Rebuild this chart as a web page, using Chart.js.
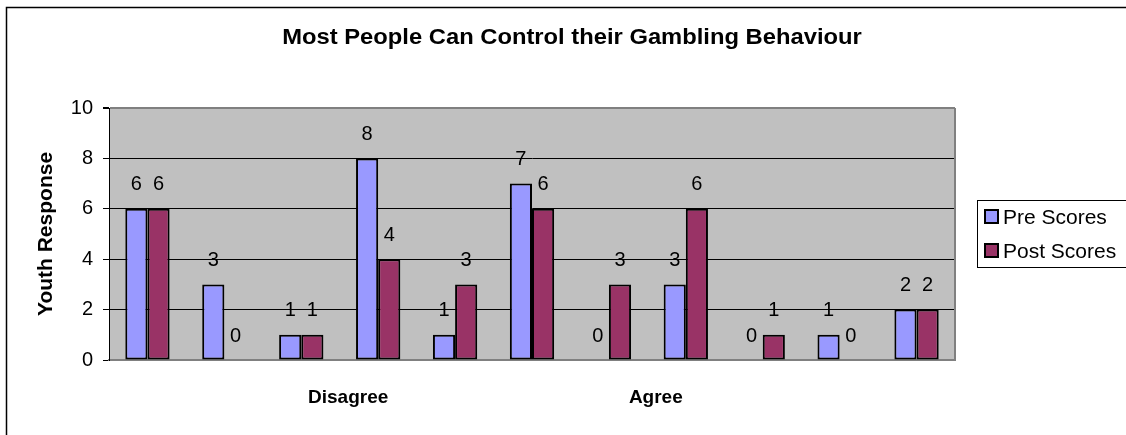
<!DOCTYPE html>
<html>
<head>
<meta charset="utf-8">
<script src="https://cdn.jsdelivr.net/npm/chart.js@4/dist/chart.umd.min.js"></script>
<style>
  html, body { margin: 0; padding: 0; background: #fff; }
  #wrap { position: relative; width: 1126px; height: 435px; }
  canvas { display: block; }
</style>
</head>
<body>
<div id="wrap"><canvas id="c" width="1126" height="435"></canvas></div>
<script>
// Response categories along the x axis (only two are labelled)
const categories = ['', '', '', 'Disagree', '', '', '', 'Agree', '', '', ''];
// Counts of youth responses per category
const preScores  = [6, 3, 1, 8, 1, 7, 0, 3, 0, 1, 2];
const postScores = [6, 0, 1, 4, 3, 6, 3, 6, 1, 0, 2];
const seriesNames = ['Pre Scores', 'Post Scores'];
const yTicks = [0, 2, 4, 6, 8, 10];

const chartTitle = 'Most People Can Control their Gambling Behaviour';
const yTitle = 'Youth Response';

const PRE_COLOR = '#9999FF';
const POST_COLOR = '#993366';
const FONT = 'Arial, "Liberation Sans", sans-serif';

// Plot background, frame, titles, value labels and legend
const decorations = {
  id: 'decorations',
  beforeDraw(chart) {
    const { ctx, chartArea: a } = chart;
    ctx.save();
    ctx.fillStyle = '#C0C0C0';
    ctx.fillRect(a.left, a.top, a.right - a.left, a.bottom - a.top);
    ctx.restore();
  },
  afterDraw(chart) {
    const { ctx, chartArea: a } = chart;
    ctx.save();
    // right edge of plot
    ctx.strokeStyle = '#808080';
    ctx.lineWidth = 2;
    ctx.beginPath();
    ctx.moveTo(a.right, a.top);
    ctx.lineTo(a.right, a.bottom);
    ctx.stroke();

    // outer frame
    ctx.strokeStyle = '#000';
    ctx.lineWidth = 1.5;
    ctx.strokeRect(6.5, 7.5, 1300, 1000);

    // chart title (slightly widened lettering)
    ctx.fillStyle = '#000';
    ctx.textAlign = 'center';
    ctx.textBaseline = 'middle';
    ctx.save();
    ctx.translate(572, 38);
    ctx.scale(1.08, 1);
    ctx.font = 'bold 22px ' + FONT;
    ctx.fillText(chartTitle, 0, 0);
    ctx.restore();

    // y axis title
    ctx.save();
    ctx.translate(46, 234);
    ctx.rotate(-Math.PI / 2);
    ctx.font = 'bold 21px ' + FONT;
    ctx.fillText(yTitle, 0, 0);
    ctx.restore();

    // value labels above the bars
    ctx.font = '20px ' + FONT;
    chart.data.datasets.forEach((ds, i) => {
      const meta = chart.getDatasetMeta(i);
      meta.data.forEach((el, j) => {
        ctx.fillText(String(ds.data[j]), el.x, el.y - 24);
      });
    });

    // legend
    ctx.strokeStyle = '#000';
    ctx.lineWidth = 1;
    ctx.strokeRect(977.5, 200.5, 200, 67);
    ctx.textAlign = 'left';
    chart.data.datasets.forEach((ds, i) => {
      const cy = 217 + i * 34;
      ctx.fillStyle = ds.backgroundColor;
      ctx.fillRect(985, cy - 7, 13, 13);
      ctx.lineWidth = 2;
      ctx.strokeRect(985, cy - 7, 13, 13);
      ctx.fillStyle = '#000';
      ctx.font = '21px ' + FONT;
      ctx.fillText(ds.label, 1003, cy + 1);
    });
    ctx.restore();
  }
};

const zeroless = ctx => (ctx.raw === 0 ? 0 : 2);

new Chart(document.getElementById('c'), {
  type: 'bar',
  data: {
    labels: categories,
    datasets: [
      { label: seriesNames[0], data: preScores, backgroundColor: PRE_COLOR,
        borderColor: '#000', borderWidth: zeroless, borderSkipped: false },
      { label: seriesNames[1], data: postScores, backgroundColor: POST_COLOR,
        borderColor: '#000', borderWidth: zeroless, borderSkipped: false }
    ]
  },
  options: {
    responsive: false,
    animation: false,
    events: [],
    layout: { padding: { top: 108, right: 171, bottom: 0, left: 0 } },
    datasets: { bar: { categoryPercentage: 0.576, barPercentage: 1.0 } },
    plugins: { legend: { display: false }, title: { display: false }, tooltip: { enabled: false } },
    scales: {
      x: {
        grid: { display: false, drawTicks: false },
        border: { display: true, color: '#808080', width: 2 },
        ticks: {
          autoSkip: false, maxRotation: 0, padding: 26, labelOffset: -30,
          color: '#000', font: { family: FONT, size: 19, weight: 'bold' }
        },
        afterFit(s) { s.height = 75; }
      },
      y: {
        min: 0, max: 10,
        afterBuildTicks(s) { s.ticks = yTicks.map(v => ({ value: v })); },
        grid: {
          color: c => (c.tick.value === 0 ? 'rgba(0,0,0,0)' : c.tick.value === 10 ? '#808080' : '#000'),
          lineWidth: c => (c.tick.value === 10 ? 2 : 1),
          tickColor: '#000', tickLength: 6, drawTicks: true
        },
        border: { display: true, color: '#000', width: 1 },
        ticks: {
          padding: 10, color: '#000',
          font: { family: FONT, size: 20 }
        },
        afterFit(s) { s.width = 109; }
      }
    }
  },
  plugins: [decorations]
});
</script>
</body>
</html>
